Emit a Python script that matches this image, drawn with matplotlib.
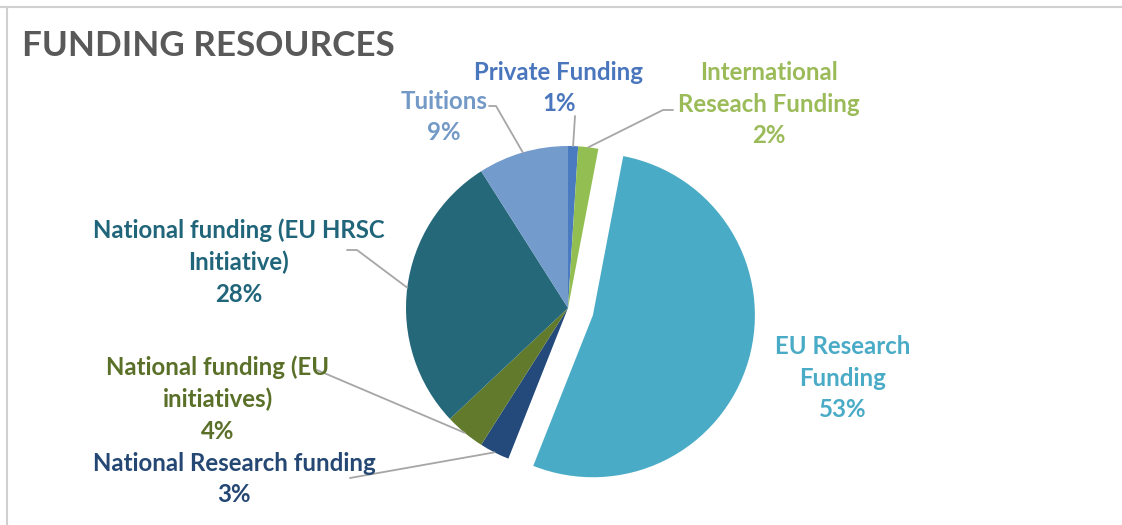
import matplotlib
matplotlib.use("Agg")
import matplotlib.pyplot as plt
import numpy as np

# ---- data ----
categories = ["Private Funding", "International\nReseach Funding", "EU Research\nFunding",
              "National Research funding", "National funding (EU\ninitiatives)",
              "National funding (EU HRSC\nInitiative)", "Tuitions"]
shares = [1, 2, 53, 3, 4, 28, 9]
slice_colors = ["#4a7bc0", "#93bf52", "#4aabc6", "#234a7b", "#627a2b", "#25687a", "#739bcc"]
label_colors = ["#4a76bd", "#9bbb59", "#4aabc6", "#254773", "#5a7028", "#20657a", "#7399c6"]
explode = [0, 0, 0.16, 0, 0, 0, 0]

W, H = 1122, 525
plt.rcParams['font.family'] = ['Lato', 'DejaVu Sans']

fig = plt.figure(figsize=(W / 100, H / 100), dpi=100)
ax = fig.add_axes([0, 0, 1, 1])

def Y(y):
    return H - y

cx, cy, r = 568, 308, 162
wedges, _ = ax.pie(shares, colors=slice_colors, explode=[e * r for e in explode],
                   startangle=90, counterclock=False, center=(cx, Y(cy)), radius=r,
                   frame=True, wedgeprops=dict(linewidth=0))
ax.set_xlim(0, W)
ax.set_ylim(0, H)
ax.set_aspect('equal')
ax.axis('off')

# label placement (pixel coords, y from top) and leader elbows
label_pos = [(559, 88), (769, 104), (843, 378), (234, 479), (218, 399), (239, 262), (444, 117)]
elbows = [[(575, 116)], [(673, 110), (663, 110)], None, [(350, 478)],
          [(317, 370)], [(347, 250), (357, 250)], [(489, 106), (496, 106)]]

for i, (w, cat) in enumerate(zip(wedges, categories)):
    txt = f"{cat}\n{shares[i]}%"
    x, y = label_pos[i]
    ax.text(x, Y(y), txt, ha='center', va='center', color=label_colors[i],
            fontsize=17.3, fontweight='bold', linespacing=1.45)
    if elbows[i] is None:
        continue
    ang = np.deg2rad((w.theta1 + w.theta2) / 2)
    wx, wy = w.center
    px, py = wx + r * np.cos(ang), wy + r * np.sin(ang)
    pts = [(ex, Y(ey)) for ex, ey in elbows[i]] + [(px, py)]
    xs, ys = zip(*pts)
    ax.plot(xs, ys, color='#a6a6a6', lw=1.3, solid_capstyle='round')

ax.text(22, Y(56), "FUNDING RESOURCES", ha='left', va='baseline', color='#595959',
        fontsize=25.2, fontweight='bold')

# frame lines
ax.plot([0, W], [Y(7), Y(7)], color='#d0d0d0', lw=1.5)
ax.plot([7, 7], [Y(7), 0], color='#d0d0d0', lw=1.5)

fig.savefig("out.png", dpi=100)
